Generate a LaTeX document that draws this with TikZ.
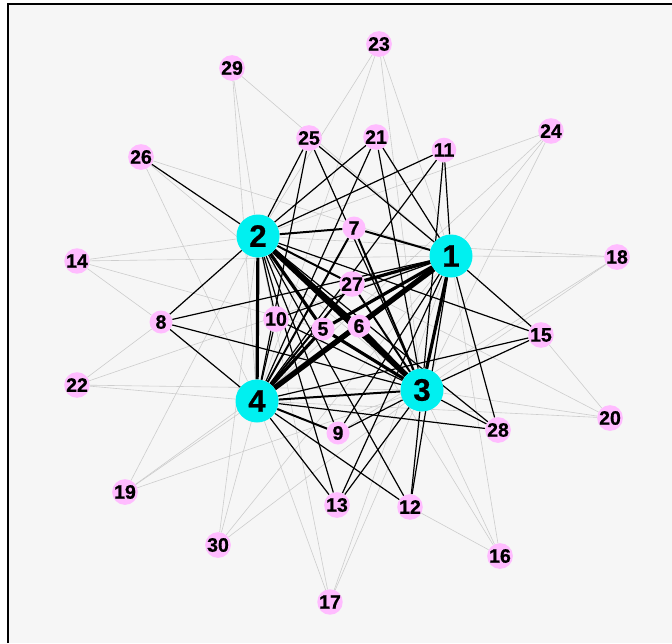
\documentclass[tikz,border=0pt]{standalone}
\usepackage{fontspec}
\setmainfont{Liberation Sans}
\newfontfamily\lblfont[BoldFeatures={FakeBold=0.8}]{Liberation Sans}
\usetikzlibrary{backgrounds}
\definecolor{bgc}{RGB}{246,246,246}
\definecolor{pinkc}{RGB}{255,188,255}
\definecolor{hubc}{RGB}{0,240,240}
\definecolor{gl}{RGB}{205,205,205}
\tikzset{
  hub/.style={circle,fill=hubc,minimum size=43pt,inner sep=0pt,font=\lblfont\bfseries\fontsize{31}{31}\selectfont},
  leaf/.style={circle,fill=pinkc,minimum size=23pt,inner sep=0pt,font=\lblfont\bfseries\fontsize{19.5}{19.5}\selectfont},
  eg/.style={draw=gl,line width=0.6pt},
  eb/.style={draw=black,line width=1.2pt},
  em/.style={draw=black,line width=2pt},
  et/.style={draw=black,line width=3.2pt},
  ev/.style={draw=black,line width=5.4pt}
}
\begin{document}
\begin{tikzpicture}[x=1pt,y=-1pt]
\useasboundingbox (0,0) rectangle (672,643);
\begin{pgfonlayer}{background}
\fill[white] (0,0) rectangle (672,643);
\fill[bgc] (8,4) rectangle (672,643);
\draw[line width=2pt] (8,643) -- (8,4) -- (672,4);
\end{pgfonlayer}
% nodes
\node[hub] (n1) at (451,256) {1};
\node[hub] (n2) at (258,236) {2};
\node[hub] (n3) at (422,390) {3};
\node[hub] (n4) at (257,401) {4};
\node[leaf] (n5) at (323,329) {5};
\node[leaf] (n6) at (359,326) {6};
\node[leaf] (n7) at (354,228) {7};
\node[leaf] (n8) at (161,322) {8};
\node[leaf] (n9) at (338,433) {9};
\node[leaf] (n10) at (276,319) {10};
\node[leaf] (n11) at (444,150) {11};
\node[leaf] (n12) at (410,507) {12};
\node[leaf] (n13) at (337,505) {13};
\node[leaf] (n14) at (77,261) {14};
\node[leaf] (n15) at (541,335) {15};
\node[leaf] (n16) at (500,556) {16};
\node[leaf] (n17) at (330,602) {17};
\node[leaf] (n18) at (617,257) {18};
\node[leaf] (n19) at (125,492) {19};
\node[leaf] (n20) at (610,418) {20};
\node[leaf] (n21) at (376,137) {21};
\node[leaf] (n22) at (77,385) {22};
\node[leaf] (n23) at (379,44) {23};
\node[leaf] (n24) at (551,131) {24};
\node[leaf] (n25) at (309,138) {25};
\node[leaf] (n26) at (141,157) {26};
\node[leaf] (n27) at (352,284) {27};
\node[leaf] (n28) at (498,430) {28};
\node[leaf] (n29) at (232,68) {29};
\node[leaf] (n30) at (218,545) {30};
\begin{pgfonlayer}{background}
\foreach \a/\b in {29/4,29/2,29/1,23/2,23/4,23/1,23/3,26/1,26/4,26/3,24/2,24/1,24/3,24/4,
  18/1,18/2,18/3,18/9,15/20,20/3,20/4,20/2,16/1,16/3,16/6,16/12,14/2,14/1,14/8,14/5,
  22/8,22/4,22/3,22/1,19/4,19/1,19/3,19/2,30/2,30/4,30/1,30/3,17/4,17/2,17/1,17/3}
  \draw[eg] (n\a) -- (n\b);
\foreach \a/\b in {26/2,25/2,25/4,25/1,25/3,21/2,21/4,21/1,21/3,11/1,11/3,11/2,11/4,
  15/1,15/2,15/3,15/4,28/1,28/3,28/4,28/2,12/3,12/1,12/4,12/2,13/1,13/2,13/3,13/4,
  9/2,9/1,9/3,8/2,8/4,8/1,8/3,10/2,10/4,10/1,10/3}
  \draw[eb] (n\a) -- (n\b);
\foreach \a/\b in {7/2,7/1,7/3,7/4,27/2,27/3,27/4,9/4,3/4}
  \draw[em] (n\a) -- (n\b);
\foreach \a/\b in {27/1,5/1,5/2,5/3,5/4,6/1,6/2,6/3,6/4,2/4,1/3}
  \draw[et] (n\a) -- (n\b);
\foreach \a/\b in {2/3,1/4}
  \draw[ev] (n\a) -- (n\b);
\end{pgfonlayer}
\end{tikzpicture}
\end{document}
